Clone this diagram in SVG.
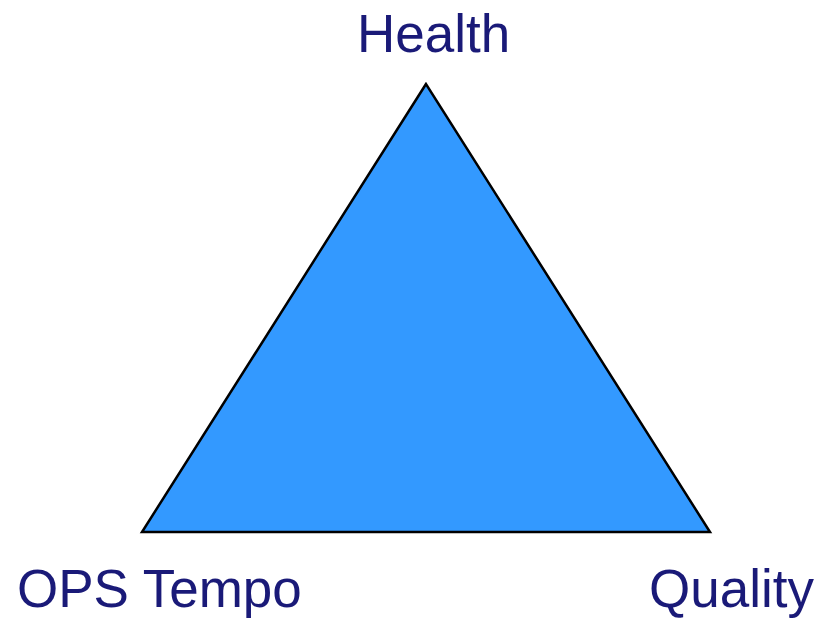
<svg xmlns="http://www.w3.org/2000/svg" width="820" height="620" viewBox="0 0 820 620">
<style>
.lbl{font-family:"Liberation Sans",Arial,sans-serif;font-size:53px;fill:#1a1a78}
</style>
<rect width="820" height="620" fill="#ffffff"/>
<g id="triangle">
<polygon points="426,84 142,532 710,532" fill="#3399ff" stroke="#000000" stroke-width="2.5" stroke-linejoin="miter"/>
</g>
<g id="health"><text class="lbl" x="357" y="52">Health</text></g>
<g id="ops-tempo"><text class="lbl" x="17" y="607">OPS Tempo</text></g>
<g id="quality"><text class="lbl" x="649" y="607">Quality</text></g>
</svg>
